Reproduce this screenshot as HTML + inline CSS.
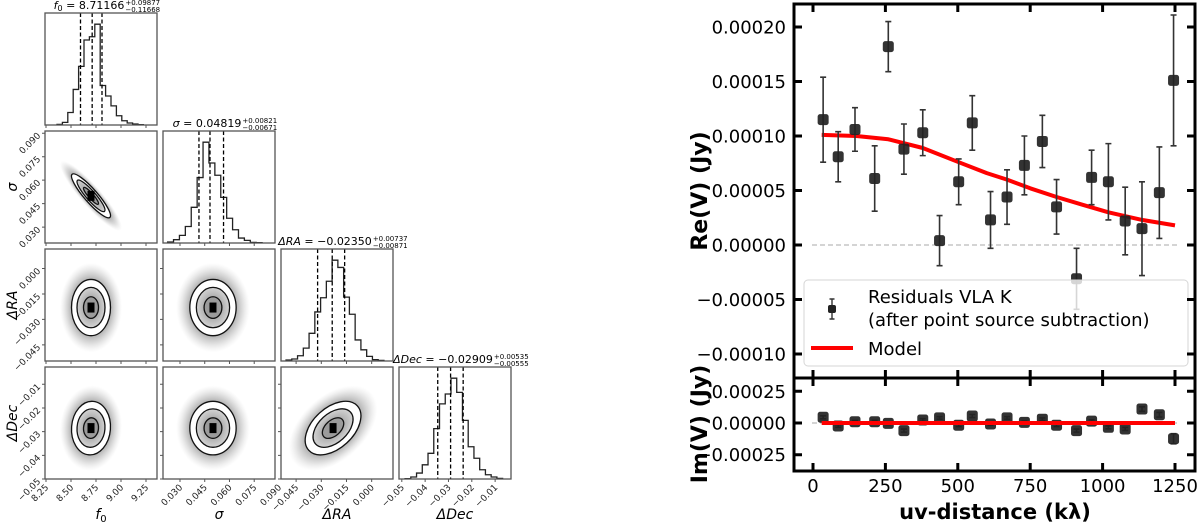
<!DOCTYPE html>
<html><head><meta charset="utf-8"><style>
html,body{margin:0;padding:0;background:#fff;}
svg{display:block;font-family:"DejaVu Sans","Liberation Sans",sans-serif;}
</style></head><body>
<svg id="fig" width="1200" height="525" viewBox="0 0 1200 525" xmlns="http://www.w3.org/2000/svg">
<defs>
<radialGradient id="cloud" cx="50%" cy="50%" r="50%">
<stop offset="0%" stop-color="#333" stop-opacity="0.75"/>
<stop offset="55%" stop-color="#444" stop-opacity="0.55"/>
<stop offset="80%" stop-color="#777" stop-opacity="0.25"/>
<stop offset="100%" stop-color="#aaa" stop-opacity="0"/>
</radialGradient>
<radialGradient id="core" cx="50%" cy="50%" r="50%">
<stop offset="0%" stop-color="#777"/>
<stop offset="100%" stop-color="#cfcfcf"/>
</radialGradient>
</defs>
<g id="corner"></g>
<g id="resid"></g>
</svg>
<script>
// ===== Right panel data =====
const uvDist = [35,87,145,213,260,314,379,437,503,550,613,670,730,792,841,910,962,1020,1078,1136,1196,1245];
const reVal = [0.000115,0.000081,0.000106,0.000061,0.000182,0.000088,0.000103,0.000004,0.000058,0.000112,0.000023,0.000044,0.000073,0.000095,0.000035,-0.000031,0.000062,0.000058,0.000022,0.000015,0.000048,0.000151];
const reErr = [0.000039,0.000023,0.00002,0.00003,0.000023,0.000023,0.000021,0.000023,0.000021,0.000025,0.000026,0.000025,0.000027,0.000024,0.000025,0.000028,0.000025,0.000035,0.000031,0.000043,0.000042,0.00006];
const imVal = [0.000045,-0.000024,0.00001,0.00001,-0.000003,-0.00006,0.000024,0.00004,-0.000018,0.000055,-0.000008,0.00004,0.000005,0.00003,-0.000018,-0.00006,0.000015,-0.000034,-0.000047,0.00011,0.000065,-0.000124];
const imErr = [0.000012,0.00001,0.00001,0.00001,0.00001,0.000012,0.00001,0.00001,0.00001,0.000012,0.00001,0.00001,0.00001,0.00001,0.00001,0.000012,0.00001,0.000012,0.000012,0.000018,0.000018,0.00004];
const modelUv = [30,150,260,379,503,600,670,750,841,930,1020,1136,1250];
const modelRe = [0.000101,0.0001,0.000097,0.000089,0.000076,0.000066,0.00006,0.000052,0.000044,0.000037,0.00003,0.000023,0.000018];
const xTicks = [0,250,500,750,1000,1250];
const reTicks = [0.0002,0.00015,0.0001,0.00005,0,-0.00005,-0.0001];
const reTickLabels = ["0.00020","0.00015","0.00010","0.00005","0.00000","\u22120.00005","\u22120.00010"];
const imTicks = [0.00025,0,-0.00025];
const imTickLabels = ["0.00025","0.00000","\u22120.00025"];

// ===== Corner data =====
const f0Bins = [2,8,38,108,178,258,268,306,120,88,58,28,13,6,3,1];
const sigBins = [3,10,23,50,108,198,305,242,205,138,75,40,15,8,2,1];
const raBins = [3,6,16,39,84,149,192,242,306,284,194,142,64,34,14,4,2];
const decBins = [1,6,18,43,78,153,228,258,306,263,178,98,63,28,13,6,2];
const binStart = [8.36,0.0225,-0.051,-0.0486];
const binWidth = [0.054,0.00358,0.00343,0.00246];
const qLow = [8.595,0.0415,-0.0322,-0.0346];
const qMed = [8.71166,0.04819,-0.0235,-0.02909];
const qHigh = [8.810,0.0564,-0.0161,-0.0237];
const paramMean = [8.70,0.050,-0.023,-0.0285];
const paramSd = [0.10,0.0072,0.0085,0.0058];
const corrs = {"1,0":-0.9,"2,0":0.0,"2,1":0.0,"3,0":0.05,"3,1":0.0,"3,2":0.45};
const cornerTicks = [[8.25,8.5,8.75,9.0,9.25],[0.03,0.045,0.06,0.075,0.09],[-0.045,-0.03,-0.015,0.0],[-0.05,-0.04,-0.03,-0.02,-0.01]];
const cornerTickLabels = [["8.25","8.50","8.75","9.00","9.25"],["0.030","0.045","0.060","0.075","0.090"],["\u22120.045","\u22120.030","\u22120.015","0.000"],["\u22120.05","\u22120.04","\u22120.03","\u22120.02","\u22120.01"]];
const xRange = [[8.24,9.36],[0.0197,0.0876],[-0.054,0.0127],[-0.0512,-0.0032]];
const yRange = [null,[0.0199,0.0914],[-0.0545,0.0115],[-0.050,-0.0027]];

const NS='http://www.w3.org/2000/svg';
function mk(tag,parent){const e=document.createElementNS(NS,tag);parent.appendChild(e);return e;}
function at(e,o){for(const k in o)e.setAttribute(k,o[k]);return e;}

// ===== Right panel =====
const R=document.getElementById('resid');
const X0=794,X1=1195,YT=4,YM=378,YB=471;
const xS=v=>813+v*0.2896;
const yU=v=>245-v/0.00005*54.5;
const yL=v=>423-v/0.00025*31.7;

let z1=mk('line',R);at(z1,{x1:812,x2:1180,y1:yU(0),y2:yU(0),stroke:'#bbb','stroke-width':1.2,'stroke-dasharray':'5,3'});


let z2=mk('line',R);at(z2,{x1:812,x2:1180,y1:yL(0),y2:yL(0),stroke:'#bbb','stroke-width':1.2,'stroke-dasharray':'5,3'});



let mp=modelUv.map((u,i)=>(i?'L':'M')+xS(u).toFixed(1)+','+yU(modelRe[i]).toFixed(1)).join(' ');
let ml=mk('path',R);at(ml,{d:mp,fill:'none',stroke:'#f00','stroke-width':4,'stroke-linejoin':'round'});



function drawPoints(vals,errs,ys,name){
  const g=mk('g',R);
  
  
  vals.forEach((v,i)=>{
    const x=xS(uvDist[i]),y=ys(v),t=ys(v+errs[i]),b=ys(v-errs[i]);
    const eb=mk('path',g);at(eb,{d:`M${x},${t}V${b}M${x-3},${t}H${x+3}M${x-3},${b}H${x+3}`,stroke:'#333','stroke-width':1.6,fill:'none'});
    
    
    const m=mk('rect',g);at(m,{x:x-5.5,y:y-5.5,width:11,height:11,rx:2.5,fill:'#222','fill-opacity':0.92});
    
    
  });
}
drawPoints(reVal,reErr,yU,'re');
drawPoints(imVal,imErr,yL,'im');
let ml2=mk('line',R);at(ml2,{x1:xS(modelUv[0]),x2:xS(modelUv[modelUv.length-1]),y1:yL(0),y2:yL(0),stroke:'#f00','stroke-width':4});



const lg=mk('g',R);


let lb=mk('rect',lg);at(lb,{x:804,y:280,width:384,height:86,rx:4,fill:'#fff','fill-opacity':0.8,stroke:'#d6d6d6','stroke-width':1});


let le=mk('path',lg);at(le,{d:'M832,299V319M829.5,299H834.5M829.5,319H834.5',stroke:'#333','stroke-width':1.4});


let lm=mk('rect',lg);at(lm,{x:828,y:305,width:8,height:8,rx:2,fill:'#222'});


let lt1=mk('text',lg);at(lt1,{x:868,y:303,'font-size':18,fill:'#000'});lt1.textContent='Residuals VLA K';


let lt2=mk('text',lg);at(lt2,{x:868,y:326,'font-size':18,fill:'#000'});lt2.textContent='(after point source subtraction)';


let lr=mk('line',lg);at(lr,{x1:811,x2:853,y1:348,y2:348,stroke:'#f00','stroke-width':4});


let lt3=mk('text',lg);at(lt3,{x:868,y:355,'font-size':18,fill:'#000'});lt3.textContent='Model';



const fr=mk('g',R);


let f1=mk('rect',fr);at(f1,{x:X0,y:YT,width:X1-X0,height:YM-YT,fill:'none',stroke:'#000','stroke-width':3});


let f2=mk('rect',fr);at(f2,{x:X0,y:YM,width:X1-X0,height:YB-YM,fill:'none',stroke:'#000','stroke-width':3});


let td='';
xTicks.forEach(t=>{const x=xS(t);td+=`M${x},${YT}v8M${x},${YM}v-8M${x},${YM}v8M${x},${YB}v-8`;});
reTicks.forEach(t=>{const y=yU(t);td+=`M${X0},${y}h8M${X1},${y}h-8`;});
imTicks.forEach(t=>{const y=yL(t);td+=`M${X0},${y}h8M${X1},${y}h-8`;});
let tk=mk('path',fr);at(tk,{d:td,stroke:'#000','stroke-width':3});


xTicks.forEach(t=>{
  const e=mk('text',fr);at(e,{x:xS(t),y:492,'font-size':18,'text-anchor':'middle'});e.textContent=String(t);
  
  
});
reTicks.forEach((t,i)=>{
  const e=mk('text',fr);at(e,{x:786,y:yU(t)+6.5,'font-size':18,'text-anchor':'end'});e.textContent=reTickLabels[i];
  
  
});
imTicks.forEach((t,i)=>{
  const e=mk('text',fr);at(e,{x:786,y:yL(t)+6.5,'font-size':18,'text-anchor':'end'});e.textContent=imTickLabels[i];
  
  
});
let xl=mk('text',fr);at(xl,{x:995,y:519,'font-size':21,'font-weight':'bold','text-anchor':'middle'});xl.textContent='uv-distance (k\u03bb)';


let yl1=mk('text',fr);at(yl1,{x:0,y:0,'font-size':22,'font-weight':'bold','text-anchor':'middle',transform:'translate(707,191) rotate(-90)'});yl1.textContent='Re(V) (Jy)';


let yl2=mk('text',fr);at(yl2,{x:0,y:0,'font-size':22,'font-weight':'bold','text-anchor':'middle',transform:'translate(707,424) rotate(-90)'});yl2.textContent='Im(V) (Jy)';



// ===== Corner plot =====
const C=document.getElementById('corner');
const colX=[45,163,281,399], rowY=[13,131,249,367], P=112;
const bins=[f0Bins,sigBins,raBins,decBins];
const names=['f0','sigma','dra','ddec'];
const cx=(j,v)=>colX[j]+(v-xRange[j][0])/(xRange[j][1]-xRange[j][0])*P;
const cy=(i,v)=>rowY[i]+P-(v-yRange[i][0])/(yRange[i][1]-yRange[i][0])*P;

const defs=document.querySelector('defs');
for(let i=1;i<4;i++){for(let j=0;j<i;j++){
  const g=mk('g',C);
  
  
  const px=cx(j,paramMean[j]),py=cy(i,paramMean[i]);
  const sxp=paramSd[j]/(xRange[j][1]-xRange[j][0])*P, syp=paramSd[i]/(yRange[i][1]-yRange[i][0])*P;
  const r=corrs[i+','+j];
  const a=sxp*sxp,d=syp*syp,b=-r*sxp*syp;
  const tr=(a+d)/2,det=a*d-b*b,disc=Math.sqrt((a-d)*(a-d)/4+b*b);
  const l1=tr+disc,l2=tr-disc;
  const ang=0.5*Math.atan2(2*b,a-d)*180/Math.PI;
  const s1=Math.sqrt(l1),s2=Math.sqrt(Math.max(l2,0.01));
  const clip='clip'+i+j;
  const cp=mk('clipPath',defs);at(cp,{id:clip});
  const cr=mk('rect',cp);at(cr,{x:colX[j],y:rowY[i],width:P,height:P});
  const outer=mk('g',g);at(outer,{'clip-path':`url(#${clip})`});
  const gg=mk('g',outer);at(gg,{transform:`translate(${px},${py}) rotate(${ang})`});
  const ell=(k,fill,stroke,name,op)=>{const e=mk('ellipse',gg);at(e,{cx:0,cy:0,rx:s1*k,ry:s2*k,fill:fill,stroke:stroke,'stroke-width':1.3,'fill-opacity':op||1});
    
    };
  ell(3.1,'url(#cloud)','none','sample-cloud');
  ell(1.95,'#fff','#111','contour-outer');
  ell(1.4,'url(#core)','#111','contour-middle',0.9);
  ell(0.75,'#9a9a9a','#111','contour-inner',0.9);
  const m=mk('rect',g);at(m,{x:px-3.5,y:py-5,width:7,height:10,fill:'#000'});
  
  
}}

for(let k=0;k<4;k++){
  const g=mk('g',C);
  
  
  const mx=Math.max(...bins[k]);const base=rowY[k]+P;
  const hy=c=>base-c/mx*P*0.9;
  let d=`M${cx(k,binStart[k])},${base}`;
  bins[k].forEach((c,n)=>{const x0=cx(k,binStart[k]+n*binWidth[k]),x1=cx(k,binStart[k]+(n+1)*binWidth[k]);d+=`L${x0},${hy(c)}L${x1},${hy(c)}`;});
  d+=`L${cx(k,binStart[k]+bins[k].length*binWidth[k])},${base}`;
  const h=mk('path',g);at(h,{d:d,fill:'none',stroke:'#222','stroke-width':1.3});
  
  
  [qLow[k],qMed[k],qHigh[k]].forEach(q=>{
    const l=mk('line',g);at(l,{x1:cx(k,q),x2:cx(k,q),y1:rowY[k],y2:base,stroke:'#000','stroke-width':1.3,'stroke-dasharray':'4,2.5'});
    
    
  });
}

for(let i=0;i<4;i++){for(let j=0;j<=i;j++){
  const r=mk('rect',C);at(r,{x:colX[j],y:rowY[i],width:P,height:P,fill:'none',stroke:'#555','stroke-width':1.3});
  
  
  let d='';
  cornerTicks[j].forEach(t=>{const x=cx(j,t);if(x>=colX[j]-1&&x<=colX[j]+P+1)d+=`M${x},${rowY[i]+P}v3`;});
  if(j<i)cornerTicks[i].forEach(t=>{const y=cy(i,t);if(y>=rowY[i]-1&&y<=rowY[i]+P+1)d+=`M${colX[j]},${y}h-3`;});
  const tk=mk('path',C);at(tk,{d:d,stroke:'#555','stroke-width':1});
  
  
}}
for(let j=0;j<4;j++){cornerTicks[j].forEach((t,n)=>{
  const x=cx(j,t),y=rowY[3]+P+6;
  const e=mk('text',C);at(e,{x:0,y:0,'font-size':9,'text-anchor':'end',fill:'#222',transform:`translate(${x+3},${y+3}) rotate(-45)`});e.textContent=cornerTickLabels[j][n];
  
  
});}
for(let i=1;i<4;i++){cornerTicks[i].forEach((t,n)=>{
  const y=cy(i,t);if(y<rowY[i]-2||y>rowY[i]+P+2)return;
  const e=mk('text',C);at(e,{x:0,y:0,'font-size':9,'text-anchor':'end',fill:'#222',transform:`translate(${colX[0]-4},${y+3}) rotate(-45)`});e.textContent=cornerTickLabels[i][n];
  
  
});}
const labs=[['f','0'],['\u03c3',''],['\u0394RA',''],['\u0394Dec','']];
labs.forEach((L,j)=>{
  const e=mk('text',C);at(e,{x:colX[j]+P/2,y:519,'font-size':14,'font-style':'italic','text-anchor':'middle'});
  e.textContent=L[0];
  if(L[1]){const s=mk('tspan',e);at(s,{'font-size':10,dy:3,'font-style':'normal'});s.textContent=L[1];}
  
  
});
labs.forEach((L,i)=>{if(i===0)return;
  const e=mk('text',C);at(e,{x:0,y:0,'font-size':14,'font-style':'italic','text-anchor':'middle',transform:`translate(17,${rowY[i]+P/2}) rotate(-90)`});
  e.textContent=L[0];
  
  
});
const titles=[['f','0',' = 8.71166','+0.09877','\u22120.11668'],['\u03c3','',' = 0.04819','+0.00821','\u22120.00671'],['\u0394RA','',' = \u22120.02350','+0.00737','\u22120.00871'],['\u0394Dec','',' = \u22120.02909','+0.00535','\u22120.00555']];
titles.forEach((T,k)=>{
  const g=mk('g',C);
  
  
  const e=mk('text',g);at(e,{x:colX[k]+P/2-12,y:rowY[k]-4,'font-size':11,'text-anchor':'middle'});
  const a=mk('tspan',e);at(a,{'font-style':'italic'});a.textContent=T[0];
  if(T[1]){const s=mk('tspan',e);at(s,{'font-size':8,dy:2});s.textContent=T[1];const s2=mk('tspan',e);at(s2,{dy:-2});s2.textContent=T[2];}
  else{const s2=mk('tspan',e);s2.textContent=T[2];}
  const bb=e.getComputedTextLength();
  const x=colX[k]+P/2-12+bb/2+1;
  const u=mk('text',g);at(u,{x:x,y:rowY[k]-8,'font-size':7});u.textContent=T[3];
  const l=mk('text',g);at(l,{x:x,y:rowY[k]-1,'font-size':7});l.textContent=T[4];
});
</script>
</body></html>
